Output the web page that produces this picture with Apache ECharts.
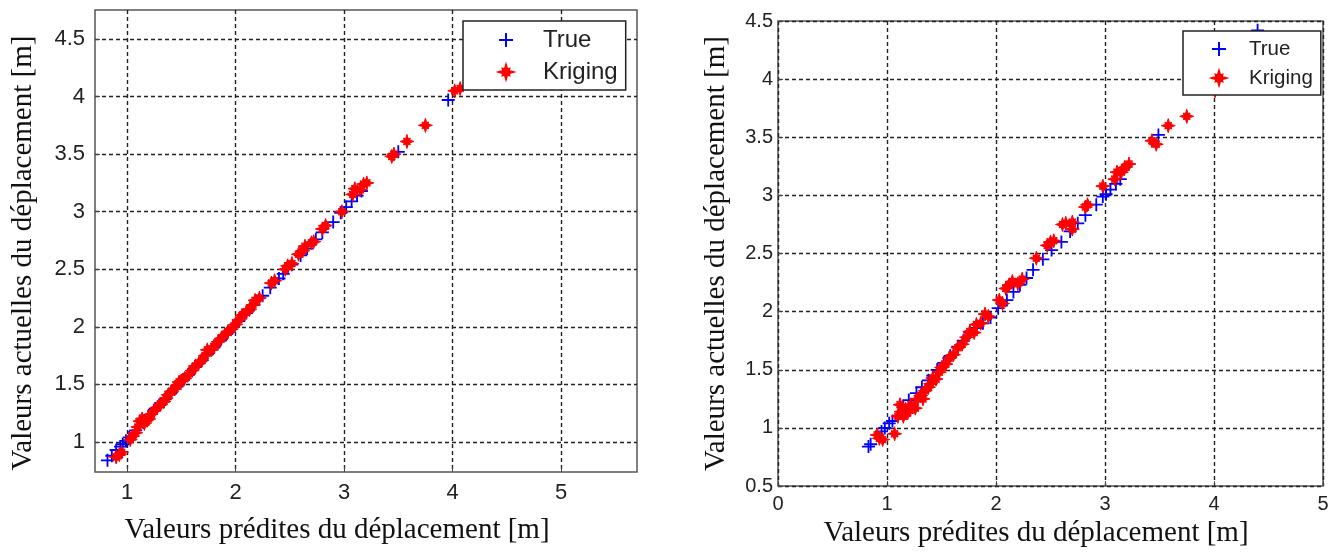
<!DOCTYPE html>
<html>
<head>
<meta charset="utf-8">
<script src="https://cdn.jsdelivr.net/npm/echarts@6/dist/echarts.min.js"></script>
<style>
  html, body { margin: 0; padding: 0; background: #fff; }
  #chart { width: 1338px; height: 553px; }
</style>
</head>
<body>
<div id="chart"></div>
<script>
// valeurs : [prédite, actuelle]
var leftTrue = [
  [0.82,0.84],[0.86,0.88],[0.9,0.93],[0.94,0.96],[0.96,0.98],[0.99,1.01],[1.02,1.04],[1.08,1.1],
  [1.15,1.17],[1.2,1.23],[1.26,1.29],[1.3,1.32],[1.35,1.37],[1.4,1.42],[1.46,1.48],[1.52,1.54],
  [1.57,1.59],[1.63,1.65],[1.68,1.7],[1.74,1.76],[1.8,1.82],[1.86,1.88],[1.92,1.94],[1.98,2.0],
  [2.03,2.05],[2.1,2.12],[2.17,2.19],[2.25,2.27],[2.32,2.34],[2.4,2.42],[2.44,2.46],[2.52,2.54],
  [2.6,2.62],[2.66,2.68],[2.74,2.76],[2.8,2.82],[2.9,2.91],[2.97,2.99],[3.02,3.04],[3.07,3.09],
  [3.12,3.14],[3.16,3.18],[3.5,3.52],[3.96,3.97]
];
var leftKriging = [
  [0.9,0.87],[0.93,0.89],[0.95,0.91],[1.03,1.02],[1.05,1.05],[1.08,1.08],[1.1,1.13],[1.12,1.18],
  [1.14,1.2],[1.16,1.16],[1.18,1.19],[1.2,1.2],[1.22,1.24],[1.25,1.27],[1.28,1.3],[1.31,1.33],
  [1.34,1.35],[1.36,1.38],[1.38,1.41],[1.41,1.44],[1.44,1.46],[1.46,1.49],[1.48,1.52],[1.5,1.53],
  [1.53,1.55],[1.56,1.58],[1.6,1.62],[1.63,1.66],[1.66,1.68],[1.69,1.71],[1.72,1.75],[1.74,1.8],
  [1.78,1.8],[1.8,1.83],[1.84,1.87],[1.87,1.9],[1.9,1.93],[1.93,1.96],[1.96,1.98],[2.0,2.02],
  [2.03,2.06],[2.06,2.1],[2.1,2.13],[2.13,2.15],[2.16,2.19],[2.18,2.23],[2.22,2.25],[2.33,2.38],
  [2.36,2.4],[2.46,2.5],[2.48,2.53],[2.52,2.55],[2.58,2.63],[2.62,2.66],[2.64,2.7],[2.7,2.73],
  [2.72,2.74],[2.8,2.85],[2.83,2.88],[2.98,3.0],[3.08,3.15],[3.1,3.2],[3.15,3.19],[3.18,3.24],
  [3.21,3.25],[3.44,3.48],[3.46,3.5],[3.58,3.61],[3.75,3.75],[4.02,4.05],[4.07,4.07]
];
var rightTrue = [
  [0.83,0.84],[0.85,0.86],[0.95,0.97],[0.98,1.0],[1.02,1.04],[1.05,1.06],[1.15,1.18],[1.2,1.24],
  [1.27,1.3],[1.32,1.35],[1.38,1.41],[1.42,1.45],[1.46,1.5],[1.52,1.56],[1.58,1.62],[1.65,1.7],
  [1.7,1.75],[1.76,1.82],[1.82,1.86],[1.88,1.9],[1.95,1.95],[2.02,2.03],[2.1,2.1],[2.16,2.17],
  [2.22,2.23],[2.28,2.29],[2.34,2.36],[2.43,2.45],[2.51,2.53],[2.6,2.6],[2.68,2.69],[2.75,2.76],
  [2.82,2.83],[2.92,2.92],[2.98,2.99],[3.01,3.01],[3.05,3.05],[3.1,3.1],[3.14,3.14],[3.49,3.52],
  [4.4,4.42]
];
var rightKriging = [
  [0.91,0.94],[0.93,0.91],[0.96,0.9],[1.07,0.95],[1.1,1.1],[1.12,1.2],[1.13,1.14],[1.15,1.1],
  [1.17,1.16],[1.19,1.13],[1.22,1.2],[1.26,1.17],[1.28,1.25],[1.31,1.28],[1.33,1.25],[1.35,1.32],
  [1.38,1.35],[1.4,1.38],[1.42,1.43],[1.45,1.42],[1.48,1.48],[1.5,1.52],[1.54,1.55],[1.57,1.6],
  [1.61,1.63],[1.65,1.69],[1.69,1.72],[1.73,1.78],[1.76,1.83],[1.8,1.82],[1.82,1.89],[1.86,1.9],
  [1.9,1.98],[1.93,1.96],[2.03,2.1],[2.06,2.07],[2.09,2.2],[2.12,2.23],[2.15,2.26],[2.2,2.24],
  [2.24,2.28],[2.37,2.46],[2.47,2.57],[2.5,2.6],[2.53,2.61],[2.61,2.75],[2.64,2.76],[2.7,2.77],
  [2.7,2.71],[2.82,2.9],[2.84,2.92],[2.98,3.08],[3.09,3.14],[3.11,3.2],[3.15,3.2],[3.18,3.24],
  [3.22,3.27],[3.43,3.47],[3.47,3.44],[3.58,3.6],[3.75,3.68],[4.01,3.9]
];

var leftXTicks = [1, 2, 3, 4, 5];
var leftYTicks = [1, 1.5, 2, 2.5, 3, 3.5, 4, 4.5];

var xName = 'Valeurs prédites du déplacement [m]';
var yName = 'Valeurs actuelles du déplacement [m]';

// marqueurs style matlab
var plusPath = 'path://M-14,-100L14,-100L14,-14L100,-14L100,14L14,14L14,100L-14,100L-14,14L-100,14L-100,-14L-14,-14Z';
var starPath = 'path://M100,0L40,18L48,48L18,40L0,100L-18,40L-48,48L-40,18L-100,0L-40,-18L-48,-48L-18,-40L0,-100L18,-40L48,-48L40,-18Z';

var serif = '"Liberation Serif", "Times New Roman", serif';
var sans = '"Liberation Sans", Arial, sans-serif';
var gridLine = { show: true, lineStyle: { color: '#222', width: 1.4, type: [4, 3] } };

function xAxisOf(idx, min, max, ticks, font, gap, margin, shift) {
  var ax = {
    gridIndex: idx, type: 'value', min: min, max: max,
    name: xName, nameLocation: 'middle', nameGap: gap,
    nameTextStyle: { fontFamily: serif, fontSize: 29, color: '#111', padding: [0, shift, 0, 0] },
    axisLine: { show: false },
    axisTick: { show: true, inside: true, length: 5, lineStyle: { color: '#444' } },
    axisLabel: { fontFamily: sans, fontSize: font, color: '#222', margin: margin, showMinLabel: true, showMaxLabel: true },
    splitLine: gridLine
  };
  if (ticks) {
    ax.axisTick.customValues = ticks;
    ax.axisLabel.customValues = ticks;
  } else {
    ax.interval = 1;
  }
  return ax;
}

function yAxisOf(idx, min, max, ticks, font, gap, margin, shift) {
  var ax = {
    gridIndex: idx, type: 'value', min: min, max: max,
    name: yName, nameLocation: 'middle', nameGap: gap,
    nameTextStyle: { fontFamily: serif, fontSize: 29, color: '#111', padding: [0, shift, 0, 0] },
    axisLine: { show: false },
    axisTick: { show: true, inside: true, length: 5, lineStyle: { color: '#444' } },
    axisLabel: { fontFamily: sans, fontSize: font, color: '#222', margin: margin, showMinLabel: true, showMaxLabel: true },
    splitLine: gridLine
  };
  if (ticks) {
    ax.axisTick.customValues = ticks;
    ax.axisLabel.customValues = ticks;
  } else {
    ax.interval = 0.5;
  }
  return ax;
}

function legendOf(left, top, pad, font, lh, gap, textShift) {
  return {
    orient: 'vertical', left: left, top: top,
    data: [{ name: 'True', icon: plusPath }, { name: 'Kriging', icon: starPath }],
    itemWidth: 14, itemHeight: 14, itemGap: gap,
    padding: pad, backgroundColor: '#fff', borderColor: '#222', borderWidth: 1.5, borderRadius: 0,
    textStyle: { fontFamily: sans, fontSize: font, color: '#222', lineHeight: lh, padding: [0, 0, 0, textShift] },
    selectedMode: false
  };
}

var chart = echarts.init(document.getElementById('chart'));
chart.setOption({
  animation: false,
  backgroundColor: '#fff',
  grid: [
    { left: 95, top: 10, width: 542, height: 462, show: true, borderColor: '#555', borderWidth: 1.5 },
    { left: 778, top: 21, width: 545, height: 469, show: true, borderColor: '#555', borderWidth: 1.5 }
  ],
  xAxis: [
    xAxisOf(0, 0.705, 5.70, leftXTicks, 22, 44, 10, 58),
    xAxisOf(1, 0, 5, null, 20, 28, 8, 29)
  ],
  yAxis: [
    yAxisOf(0, 0.739, 4.752, leftYTicks, 22, 57, 10, 24),
    yAxisOf(1, 0.5, 4.5, null, 20, 47, 5, 0)
  ],
  legend: [
    legendOf(463, 21, [6, 8, 5, 35], 24, 26, 6, 25),
    legendOf(1183, 31, [7, 8, 6, 28], 20.5, 22, 7, 18)
  ],
  series: [
    { name: 'True', type: 'scatter', xAxisIndex: 0, yAxisIndex: 0, data: leftTrue,
      symbol: plusPath, symbolSize: 13, itemStyle: { color: '#0000ff', opacity: 1 } },
    { name: 'Kriging', type: 'scatter', xAxisIndex: 0, yAxisIndex: 0, data: leftKriging,
      symbol: starPath, symbolSize: 14, itemStyle: { color: '#ff0000', opacity: 1, borderColor: '#ff0000', borderWidth: 1 } },
    { name: 'True', type: 'scatter', xAxisIndex: 1, yAxisIndex: 1, data: rightTrue,
      symbol: plusPath, symbolSize: 13, itemStyle: { color: '#0000ff', opacity: 1 } },
    { name: 'Kriging', type: 'scatter', xAxisIndex: 1, yAxisIndex: 1, data: rightKriging,
      symbol: starPath, symbolSize: 14, itemStyle: { color: '#ff0000', opacity: 1, borderColor: '#ff0000', borderWidth: 1 } }
  ]
});
</script>
</body>
</html>
